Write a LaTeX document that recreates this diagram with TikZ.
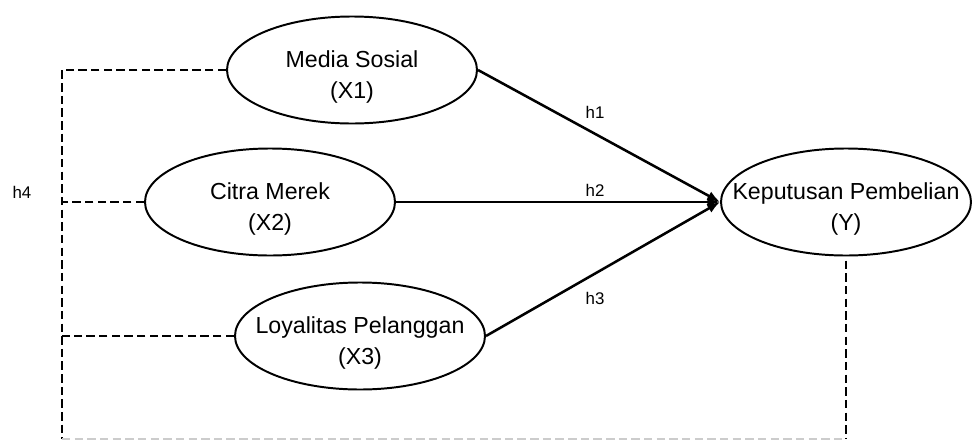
\documentclass[tikz,border=0pt]{standalone}
\usepackage{fontspec}
\setmainfont{Liberation Sans}
\usepackage{tikz}
\usetikzlibrary{arrows.meta, shapes.geometric}

\newcommand{\lowered}{\rule{0pt}{22pt}}

\begin{document}
\begin{tikzpicture}[
	var/.style = {draw, ellipse, line width=1.4pt, minimum width=6.25cm, minimum height=2.675cm,
		inner xsep=-20pt, inner ysep=2pt, align=center, font=\fontsize{16.5}{21.5}\selectfont},
	effect/.style = {line width=1.8pt, -{Latex[length=9pt, width=7pt]}},
	link/.style = {dashed, line width=1.1pt, dash pattern=on 6pt off 3pt},
	hyp/.style = {font=\fontsize{12}{14}\selectfont}
]
	\useasboundingbox (0, 0) rectangle (24.325, -11.025);
	\node [var] (ms) at (8.8, -1.75) {\lowered Media Sosial\\(X1)};
	\node [var] (cm) at (6.75, -5.05) {\lowered Citra Merek\\(X2)};
	\node [var] (lp) at (9.0, -8.4) {\lowered Loyalitas Pelanggan\\(X3)};
	\node [var] (kp) at (21.15, -5.05) {\lowered Keputusan Pembelian\\(Y)};
	\coordinate (tl) at (1.55, -1.75);
	\coordinate (bl) at (1.55, -10.975);
	\draw [effect] (ms.east) -- (kp.west);
	\draw [effect] (cm.east) -- (kp.west);
	\draw [effect] (lp.east) -- (kp.west);
	\node [hyp] (h1) at (14.875, -2.8) {h1};
	\node [hyp] (h2) at (14.875, -4.75) {h2};
	\node [hyp] (h3) at (14.875, -7.45) {h3};
	\node [hyp] (h4) at (0.55, -4.8) {h4};
	\draw [link] (ms.west) -- (tl) -- (bl);
	\draw [link] (cm.west) -- (cm.west -| tl);
	\draw [link] (lp.west) -- (lp.west -| tl);
	\draw [link, shorten <=3pt] (kp.south) -- (kp.south |- bl);
	\draw [link, gray!40, line width=0.8pt] (bl) -- (kp.south |- bl);
\end{tikzpicture}
\end{document}
